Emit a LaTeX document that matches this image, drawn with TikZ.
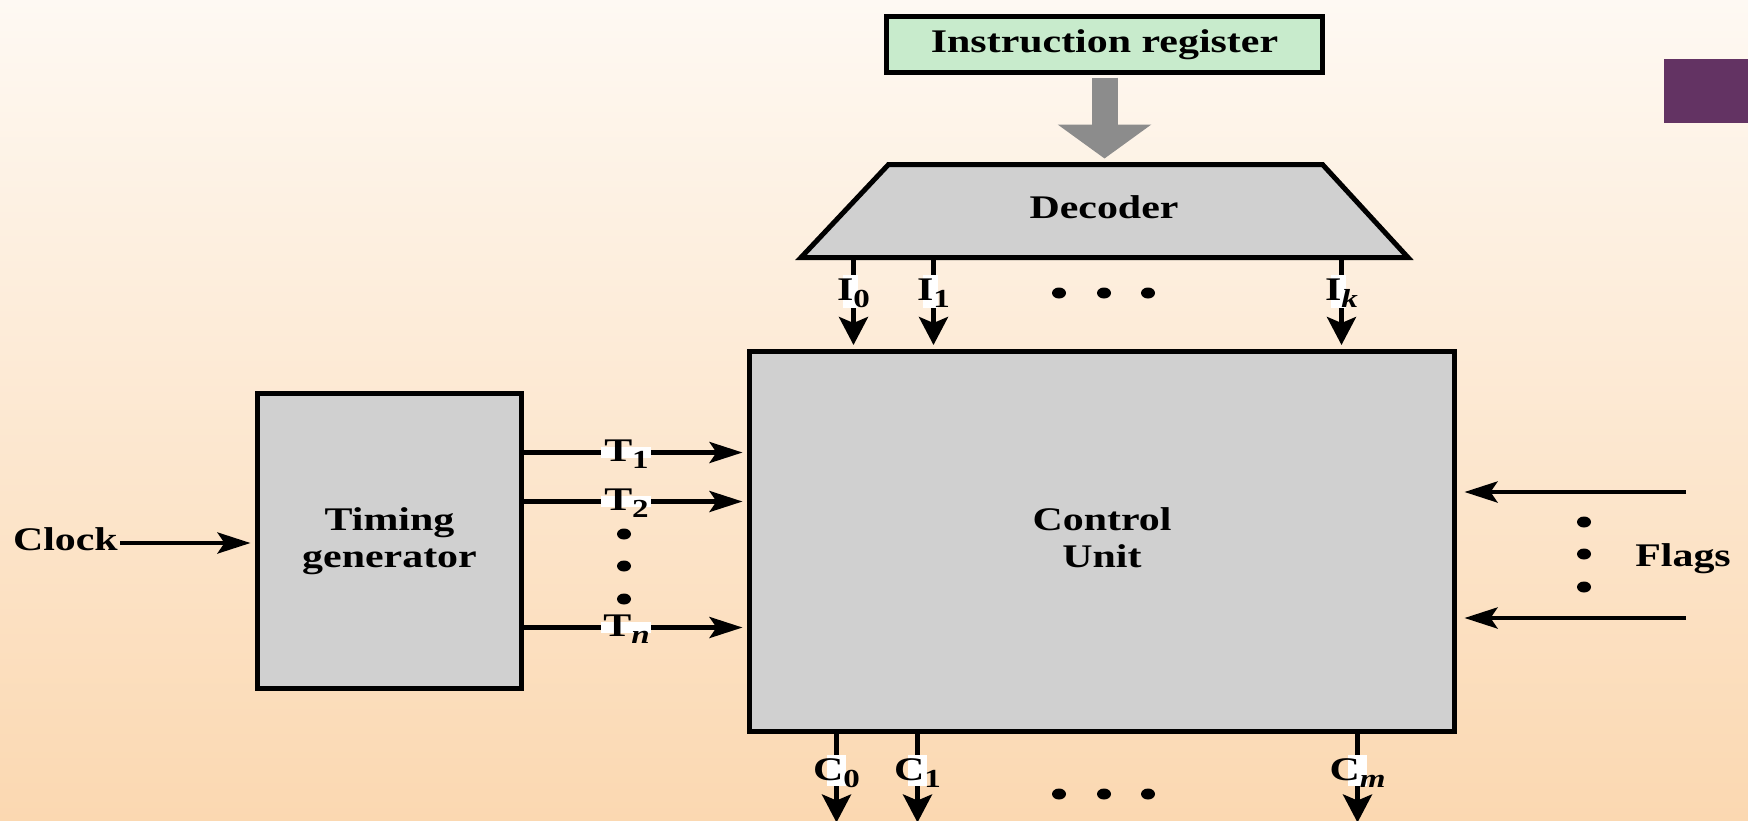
\documentclass[tikz,border=0pt]{standalone}
\usepackage{fontspec}
\setmainfont[FakeStretch=1.27]{Liberation Serif}
\usetikzlibrary{arrows.meta,calc}

\definecolor{bgtop}{RGB}{254,249,243}
\definecolor{bgbot}{RGB}{251,216,177}
\definecolor{boxgray}{RGB}{208,208,208}
\definecolor{regreen}{RGB}{200,235,204}
\definecolor{busgray}{RGB}{140,140,140}
\definecolor{accent}{RGB}{99,51,99}

% signal name with a lowered, smaller index
\newcommand\signame[2]{#1\raisebox{-7pt}{\fontsize{26}{26}\selectfont #2}}

\begin{document}
\begin{tikzpicture}[x=1pt,y=-1pt,
  every node/.style={font=\fontsize{33}{37}\selectfont\bfseries},
  block/.style={draw=black, line width=5pt, fill=boxgray, inner sep=0pt},
  wire/.style={line width=4.5pt},
  harrow/.style={wire, -{Stealth[length=33pt,width=21pt,inset=7pt]}},
  varrow/.style={wire, -{Stealth[length=28pt,width=29pt,inset=6pt]}},
  hgap/.style={fill=white, inner sep=0pt, minimum width=50pt, minimum height=11pt},
  vgap/.style={fill=white, inner sep=0pt, minimum width=15pt, minimum height=33pt},
  cgap/.style={fill=white, inner sep=0pt, minimum width=19pt, minimum height=31pt},
  siglabel/.style={inner sep=0pt, anchor=base},
  dotmark/.style={fill=black},
]
% background
\shade[top color=bgtop, bottom color=bgbot] (0,0) rectangle (1748,820);
\useasboundingbox (0,0) rectangle (1748,820);
\fill[accent] (1664,59) rectangle (1748,123);

% instruction register
\node[block, fill=regreen, minimum width=436pt, minimum height=56pt] (ir) at (1104.5,44.5) {Instruction register};

% decoder outline
\coordinate (decnw) at (888.5,164.5);
\coordinate (decne) at (1322.5,164.5);
\coordinate (decse) at (1408,257.5);
\coordinate (decsw) at (801,257.5);
\draw[line width=5pt, fill=boxgray] (decsw) -- (decnw) -- (decne) -- (decse) -- cycle;
\node[anchor=base] (decoder) at (1104,218) {Decoder};

% bus from register to decoder
\draw[busgray, line width=26pt, -{Triangle[length=34pt,width=92pt]}, shorten >=6pt]
  ($(ir.south)+(0,2.5)$) -- (ir.south |- decnw);

% main blocks
\node[block, minimum width=705pt, minimum height=380pt] (cu) at (1102,541.5) {};
\node[align=center] (culabel) at ($(cu.center)+(0,-4)$) {Control\\Unit};
\node[block, minimum width=264pt, minimum height=295pt, align=center] (timing) at (389.5,541) {Timing\\generator};

% clock input
\node[anchor=east, inner sep=2pt, text height=22.5pt, text depth=8pt] (clock) at (120,543) {Clock};
\draw[harrow, shorten >=4.5pt] (clock.east) -- (clock.east -| timing.west);

% timing signals
\coordinate (t1) at ($(timing.north east)+(0,61.5)$);
\coordinate (t2) at ($(timing.north east)+(0,110.5)$);
\coordinate (tn) at ($(timing.north east)+(0,236.5)$);
\foreach \t in {t1,t2,tn}
  \draw[harrow, shorten >=4.5pt] (\t) -- (\t -| cu.west);
\node[hgap] (gt1) at ($(t1)+(101.5,-0.5)$) {};
\node[hgap] (gt2) at ($(t2)+(101.5,-0.5)$) {};
\node[hgap] (gtn) at ($(tn)+(101.5,-0.5)$) {};
\node[siglabel] (lt1) at ($(t1)+(102.5,8.5)$) {\signame{T}{1}};
\node[siglabel] (lt2) at ($(t2)+(102.5,8.5)$) {\signame{T}{2}};
\node[siglabel] (ltn) at ($(tn)+(102.5,8.5)$) {\signame{T}{\textit{n}}};
\foreach \y in {534,566,599}
  \fill[dotmark] (624,\y) ellipse [x radius=7pt, y radius=5.5pt];

% decoder outputs
\coordinate (i0) at ($(cu.north west)+(106.5,0)$);
\coordinate (i1) at ($(cu.north west)+(186.5,0)$);
\coordinate (ik) at ($(cu.north west)+(594.5,0)$);
\foreach \i in {i0,i1,ik}
  \draw[varrow, shorten >=4pt] (\i |- decsw) -- (\i);
\node[vgap] (gi0) at ($(i0)+(-3,-58)$) {};
\node[vgap] (gi1) at ($(i1)+(-3,-58)$) {};
\node[vgap] (gik) at ($(ik)+(-3,-58)$) {};
\node[siglabel] (li0) at ($(i0)+(0,-48.5)$) {\signame{I}{0}};
\node[siglabel] (li1) at ($(i1)+(0,-48.5)$) {\signame{I}{1}};
\node[siglabel] (lik) at ($(ik)+(0,-48.5)$) {\signame{I}{\textit{k}}};
\foreach \x in {1059,1104,1148}
  \fill[dotmark] (\x,293) ellipse [x radius=7pt, y radius=5.5pt];

% control outputs
\coordinate (c0) at ($(cu.south west)+(89.5,0)$);
\coordinate (c1) at ($(cu.south west)+(170.5,0)$);
\coordinate (cm) at ($(cu.south west)+(610.5,0)$);
\foreach \c in {c0,c1,cm}
  \draw[varrow] (\c) -- ($(\c)+(0,88.5)$);
\node[cgap] (gc0) at ($(c0)+(0,36)$) {};
\node[cgap] (gc1) at ($(c1)+(0,36)$) {};
\node[cgap] (gcm) at ($(cm)+(0,36)$) {};
\node[siglabel] (lc0) at ($(c0)+(0,46.5)$) {\signame{C}{0}};
\node[siglabel] (lc1) at ($(c1)+(0,46.5)$) {\signame{C}{1}};
\node[siglabel] (lcm) at ($(cm)+(0,46.5)$) {\signame{C}{\textit{m}}};
\foreach \x in {1059,1104,1148}
  \fill[dotmark] (\x,794) ellipse [x radius=7pt, y radius=5.5pt];

% flag inputs
\coordinate (f1) at (1686,492);
\coordinate (f2) at (1686,618);
\foreach \f in {f1,f2}
  \draw[harrow, shorten >=7.5pt] (\f) -- (\f -| cu.east);
\foreach \y in {522,554,587}
  \fill[dotmark] (1584,\y) ellipse [x radius=7pt, y radius=5.5pt];
\node[anchor=base] (flags) at (1683,566) {Flags};
\end{tikzpicture}
\end{document}
